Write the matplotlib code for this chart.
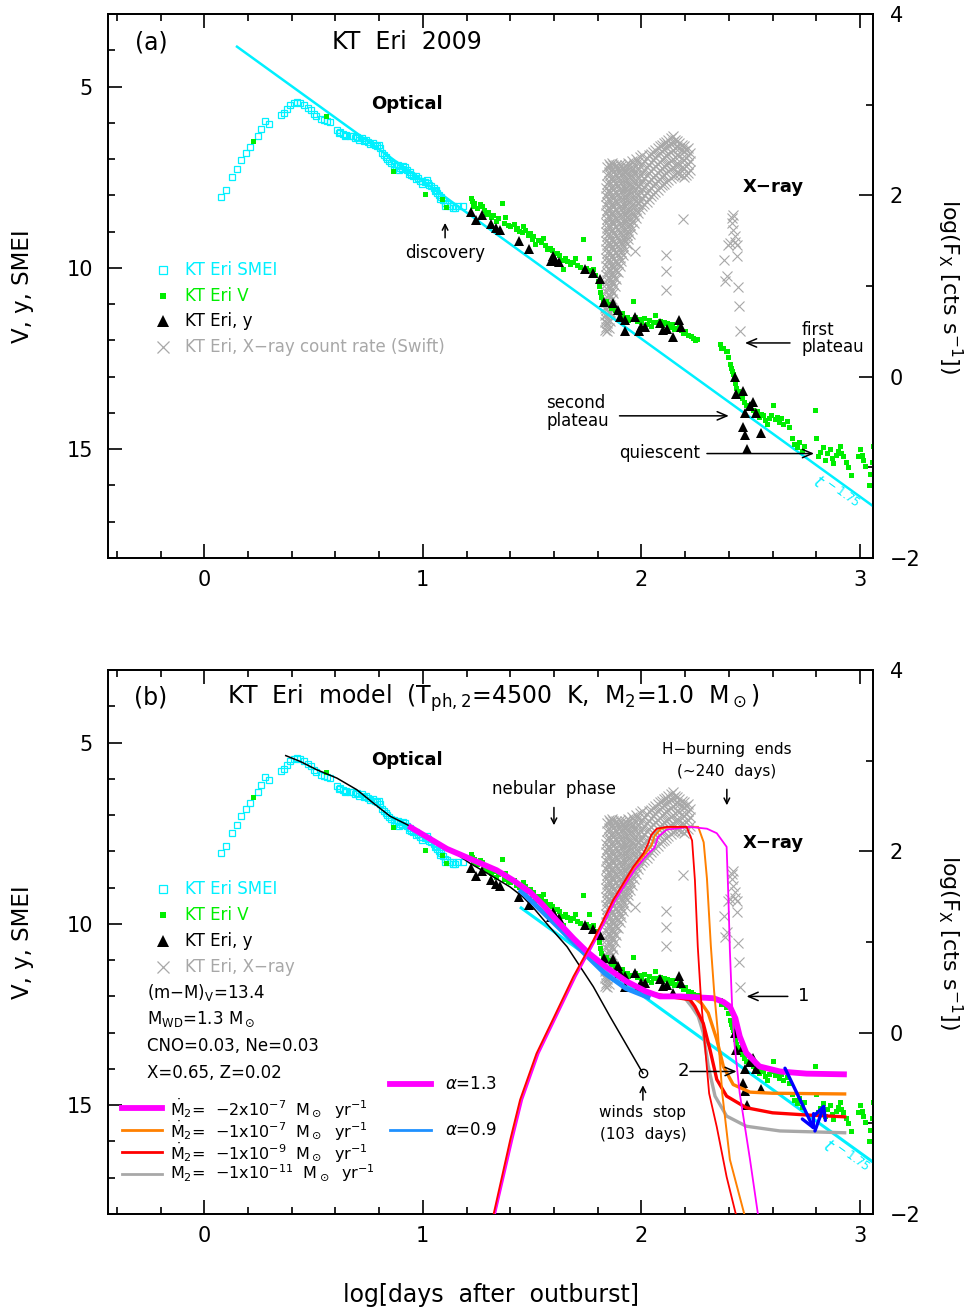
import numpy as np
import matplotlib.pyplot as plt

plt.rcParams['font.family'] = ['DejaVu Sans']
plt.rcParams['mathtext.fontset'] = 'dejavusans'
plt.rcParams['axes.linewidth'] = 1.3

CYAN = '#00f0ff'
GREEN = '#00ee00'
GREY = '#a8a8a8'
MAGENTA = '#ff00ff'
ORANGE = '#ff8000'
RED = '#ff0000'
MGREY = '#a8a8a8'
SKY = '#1e90ff'

# ---- observations: log(days after outburst), magnitude ----
smei = np.array([
    [0.076, 8.05], [0.100, 7.84], [0.125, 7.50], [0.148, 7.28], [0.169, 7.02],
    [0.189, 6.84], [0.209, 6.67], [0.244, 6.35], [0.262, 6.16], [0.277, 5.94],
    [0.296, 6.02], [0.352, 5.78], [0.367, 5.73], [0.378, 5.62], [0.393, 5.50],
    [0.409, 5.46], [0.424, 5.43], [0.439, 5.44], [0.457, 5.50], [0.473, 5.58],
    [0.488, 5.64], [0.500, 5.75], [0.512, 5.80], [0.534, 5.89], [0.548, 5.92],
    [0.561, 5.96], [0.576, 5.99], [0.607, 6.19], [0.615, 6.28], [0.620, 6.24],
    [0.637, 6.30], [0.645, 6.36], [0.650, 6.33], [0.668, 6.37], [0.680, 6.35],
    [0.690, 6.43], [0.698, 6.40], [0.710, 6.46], [0.720, 6.42], [0.729, 6.51],
    [0.740, 6.48], [0.750, 6.52], [0.759, 6.58], [0.770, 6.55], [0.780, 6.60],
    [0.790, 6.65], [0.800, 6.62], [0.805, 6.70], [0.812, 6.83], [0.823, 6.88],
    [0.830, 6.93], [0.835, 6.99], [0.845, 7.05], [0.856, 7.10], [0.866, 7.13],
    [0.870, 7.18], [0.876, 7.20], [0.886, 7.17], [0.890, 7.30], [0.896, 7.24],
    [0.906, 7.28], [0.910, 7.20], [0.917, 7.22], [0.927, 7.29], [0.937, 7.40],
    [0.940, 7.35], [0.947, 7.45], [0.957, 7.47], [0.967, 7.55], [0.970, 7.48],
    [0.978, 7.52], [0.988, 7.61], [0.995, 7.60], [0.998, 7.70], [1.008, 7.62],
    [1.018, 7.58], [1.026, 7.65], [1.030, 7.72], [1.037, 7.75], [1.049, 7.79],
    [1.057, 7.88], [1.060, 7.85], [1.064, 7.93], [1.075, 7.98], [1.080, 8.10],
    [1.085, 8.05], [1.094, 8.12], [1.100, 8.30], [1.102, 8.20], [1.112, 8.24],
    [1.125, 8.29], [1.136, 8.35], [1.140, 8.28], [1.148, 8.34], [1.160, 8.30],
    [1.186, 8.28],
])

v_band = np.array([
    [0.223, 6.51], [0.556, 5.82], [0.863, 7.33], [1.011, 7.97], [1.090, 8.11],
    [1.104, 8.32],
    [1.222, 8.07], [1.226, 8.15], [1.230, 8.29], [1.236, 8.22], [1.250, 8.35],
    [1.262, 8.25], [1.270, 8.30], [1.278, 8.40], [1.290, 8.52], [1.300, 8.45],
    [1.310, 8.60], [1.322, 8.55], [1.334, 8.70], [1.345, 8.62], [1.364, 8.22],
    [1.370, 8.75], [1.377, 8.61], [1.390, 8.82], [1.400, 8.85], [1.415, 8.80],
    [1.425, 8.92], [1.430, 8.90], [1.440, 8.98], [1.455, 9.02], [1.460, 8.84],
    [1.468, 8.95], [1.480, 9.08], [1.490, 9.05], [1.500, 9.19], [1.506, 9.12],
    [1.514, 9.34], [1.525, 9.22], [1.540, 9.30], [1.552, 9.17], [1.560, 9.38],
    [1.567, 9.49], [1.580, 9.45], [1.590, 9.52], [1.600, 9.58], [1.613, 9.59],
    [1.625, 9.65], [1.636, 9.78], [1.643, 10.03], [1.650, 9.72], [1.660, 9.80],
    [1.674, 9.88], [1.680, 9.84], [1.689, 9.85], [1.697, 9.74], [1.705, 9.92],
    [1.720, 9.98], [1.735, 9.19], [1.745, 10.00], [1.762, 9.74], [1.770, 10.06],
    [1.780, 10.03], [1.790, 10.20], [1.800, 10.37], [1.805, 10.50], [1.810, 10.67],
    [1.815, 10.80],
    [1.825, 10.95], [1.840, 10.92], [1.850, 11.00], [1.860, 11.10], [1.870, 11.06],
    [1.880, 11.15], [1.890, 11.21], [1.900, 11.30], [1.910, 11.25], [1.920, 11.36],
    [1.933, 11.36], [1.940, 11.45], [1.950, 11.40], [1.963, 10.92], [1.970, 11.35],
    [1.980, 11.46], [1.990, 11.42], [2.000, 11.50], [2.010, 11.38], [2.024, 11.55],
    [2.035, 11.45], [2.045, 11.60], [2.055, 11.48], [2.062, 11.31], [2.070, 11.50],
    [2.085, 11.46], [2.095, 11.58], [2.105, 11.50], [2.116, 11.53], [2.125, 11.62],
    [2.139, 11.55], [2.150, 11.68], [2.160, 11.65], [2.170, 11.55], [2.180, 11.72],
    [2.190, 11.80], [2.200, 11.75], [2.215, 11.85], [2.225, 11.88], [2.236, 11.94],
    [2.245, 11.98], [2.253, 11.96],
    [2.360, 12.10], [2.365, 12.20], [2.375, 12.22], [2.385, 12.30], [2.390, 12.29],
    [2.398, 12.45], [2.405, 12.64], [2.410, 12.75], [2.415, 12.85], [2.420, 12.93],
    [2.425, 13.05], [2.428, 13.18], [2.435, 13.30], [2.440, 13.40], [2.450, 13.52],
    [2.460, 13.60], [2.470, 13.70], [2.480, 13.78], [2.490, 13.85], [2.500, 13.75],
    [2.512, 13.91], [2.520, 14.00], [2.530, 13.95], [2.540, 14.10], [2.548, 14.02],
    [2.558, 14.06], [2.565, 14.20], [2.573, 14.31], [2.585, 14.15], [2.595, 14.05],
    [2.604, 13.77], [2.610, 14.18], [2.620, 14.11], [2.630, 14.25], [2.640, 14.15],
    [2.650, 14.31], [2.665, 14.21], [2.675, 14.40], [2.690, 14.70], [2.700, 14.85],
    [2.710, 14.95], [2.720, 14.80], [2.733, 15.04], [2.745, 14.90], [2.794, 13.91],
    [2.800, 14.70], [2.810, 15.20], [2.817, 15.09], [2.830, 14.95], [2.840, 15.29],
    [2.850, 15.10], [2.863, 15.00], [2.870, 15.25], [2.878, 15.39], [2.890, 15.15],
    [2.900, 15.05], [2.909, 14.90], [2.915, 15.10], [2.924, 15.19], [2.935, 15.35],
    [2.947, 15.49], [2.960, 15.70], [2.990, 15.20], [3.000, 15.00], [3.008, 15.15],
    [3.015, 15.29], [3.025, 15.45], [3.040, 15.98], [3.046, 15.68], [3.055, 15.35],
    [3.060, 14.90],
])

y_band = np.array([
    [1.220, 8.46], [1.245, 8.67], [1.270, 8.55], [1.314, 8.78], [1.334, 8.89],
    [1.354, 8.95], [1.442, 9.27], [1.488, 9.47], [1.585, 9.80], [1.594, 9.68],
    [1.605, 9.79], [1.625, 9.84], [1.742, 10.02], [1.780, 10.13], [1.810, 10.30],
    [1.829, 10.94], [1.870, 10.98], [1.894, 11.17], [1.900, 11.35], [1.925, 11.44],
    [1.925, 11.73], [1.970, 11.35], [1.990, 11.73], [2.000, 11.63], [2.015, 11.63],
    [2.085, 11.53], [2.100, 11.71], [2.116, 11.68], [2.146, 11.91], [2.170, 11.44],
    [2.180, 11.63], [2.428, 13.01], [2.433, 13.47], [2.463, 13.40], [2.497, 13.82],
    [2.512, 13.70], [2.474, 14.01], [2.524, 14.01], [2.463, 14.39], [2.474, 14.60],
    [2.546, 14.55], [2.485, 15.00],
])

# Swift count rate, log(cts/s), grouped by epoch
xray_cols = [
    (1.832, [0.52, 0.60, 0.68, 0.76, 0.84]),
    (1.838, [0.55, 0.64, 0.73, 0.82, 0.93, 1.02, 1.12, 1.22, 1.31, 1.41, 1.50,
             1.60, 1.70, 1.80, 1.89, 1.99, 2.08]),
    (1.844, [0.50, 0.59, 0.69, 0.78, 0.88, 0.97, 1.07, 1.16, 1.26, 1.36, 1.45,
             1.55, 1.64, 1.74, 1.84, 1.93, 2.03, 2.12, 2.22, 2.31]),
    (1.851, [0.54, 0.63, 0.72, 0.82, 0.91, 1.01, 1.10, 1.20, 1.30, 1.39, 1.49,
             1.58, 1.68, 1.78, 1.87, 1.97, 2.06, 2.16, 2.26, 2.35]),
    (1.858, [0.61, 0.70, 0.79, 0.88, 0.98, 1.07, 1.17, 1.27, 1.36, 1.46, 1.55,
             1.65, 1.75, 1.84, 1.94, 2.03, 2.13, 2.23, 2.32]),
    (1.865, [0.74, 0.86, 0.95, 1.05, 1.14, 1.24, 1.33, 1.43, 1.52, 1.62, 1.72,
             1.81, 1.91, 2.00, 2.10, 2.20, 2.29, 2.36]),
    (1.872, [0.92, 1.02, 1.11, 1.21, 1.30, 1.40, 1.49, 1.59, 1.69, 1.78, 1.88,
             1.97, 2.07, 2.17, 2.26, 2.33]),
    (1.879, [1.00, 1.09, 1.19, 1.28, 1.38, 1.47, 1.57, 1.66, 1.76, 1.85, 1.95,
             2.04, 2.14, 2.24, 2.31]),
    (1.886, [1.08, 1.17, 1.27, 1.36, 1.46, 1.55, 1.65, 1.74, 1.84, 1.93, 2.03,
             2.12, 2.22, 2.34]),
    (1.893, [1.16, 1.25, 1.35, 1.44, 1.54, 1.63, 1.73, 1.82, 1.92, 2.01, 2.11,
             2.20, 2.30]),
    (1.900, [1.22, 1.31, 1.41, 1.50, 1.60, 1.69, 1.79, 1.88, 1.98, 2.07, 2.17,
             2.26, 2.35]),
    (1.908, [1.28, 1.38, 1.47, 1.57, 1.66, 1.76, 1.85, 1.95, 2.04, 2.14, 2.23, 2.32]),
    (1.916, [1.34, 1.44, 1.53, 1.63, 1.72, 1.82, 1.91, 2.01, 2.10, 2.20, 2.29]),
    (1.924, [1.40, 1.50, 1.59, 1.69, 1.78, 1.88, 1.97, 2.07, 2.16, 2.26, 2.34]),
    (1.932, [1.46, 1.56, 1.65, 1.75, 1.84, 1.94, 2.03, 2.13, 2.22, 2.31]),
    (1.941, [1.52, 1.61, 1.71, 1.80, 1.90, 1.99, 2.09, 2.18, 2.28, 2.36]),
    (1.950, [1.57, 1.67, 1.76, 1.86, 1.95, 2.05, 2.14, 2.24, 2.33]),
    (1.959, [1.63, 1.72, 1.82, 1.91, 2.01, 2.10, 2.20, 2.29, 2.38]),
    (1.968, [1.69, 1.78, 1.88, 1.97, 2.07, 2.16, 2.26, 2.35]),
    (1.977, [1.75, 1.84, 1.94, 2.03, 2.13, 2.22, 2.32, 2.40]),
    (1.986, [1.80, 1.90, 1.99, 2.09, 2.18, 2.28, 2.37]),
    (1.995, [1.85, 1.94, 2.04, 2.13, 2.23, 2.32, 2.42]),
    (2.004, [1.88, 1.97, 2.07, 2.16, 2.26, 2.35, 2.44]),
    (2.014, [1.90, 2.00, 2.09, 2.19, 2.28, 2.38]),
    (2.024, [1.93, 2.03, 2.12, 2.22, 2.31, 2.41]),
    (2.034, [1.96, 2.06, 2.15, 2.25, 2.34, 2.44]),
    (2.044, [1.99, 2.08, 2.18, 2.27, 2.37, 2.46]),
    (2.054, [2.01, 2.11, 2.20, 2.30, 2.39, 2.48]),
    (2.064, [2.04, 2.13, 2.23, 2.32, 2.42, 2.50]),
    (2.074, [2.06, 2.16, 2.25, 2.35, 2.44, 2.52]),
    (2.084, [2.09, 2.18, 2.28, 2.37, 2.47, 2.54]),
    (2.094, [2.11, 2.21, 2.30, 2.40, 2.49, 2.56]),
    (2.104, [2.13, 2.23, 2.32, 2.42, 2.51, 2.58]),
    (2.114, [2.15, 2.25, 2.34, 2.44, 2.53, 2.59]),
    (2.124, [2.17, 2.27, 2.36, 2.46, 2.55, 2.61]),
    (2.134, [2.19, 2.29, 2.38, 2.48, 2.57, 2.63]),
    (2.144, [2.21, 2.31, 2.40, 2.50, 2.59, 2.65]),
    (2.154, [2.23, 2.33, 2.42, 2.52, 2.61]),
    (2.164, [2.25, 2.34, 2.44, 2.53, 2.60]),
    (2.174, [2.24, 2.33, 2.43, 2.52, 2.58]),
    (2.184, [2.22, 2.31, 2.41, 2.50, 2.56]),
    (2.194, [2.20, 2.30, 2.39, 2.49, 2.54]),
    (2.204, [2.22, 2.32, 2.41, 2.50]),
    (2.214, [2.25, 2.35, 2.44, 2.52]),
    (2.224, [2.28, 2.38, 2.47]),
    (1.970, [1.39]),
    (2.112, [1.34, 1.17, 0.96]),
    (2.190, [1.74]),
    (2.378, [1.29]), (2.383, [1.05]), (2.390, [1.11]), (2.397, [1.45]),
    (2.405, [1.47]), (2.413, [1.69, 1.75]), (2.420, [1.62, 1.78]),
    (2.428, [1.49, 1.55]), (2.436, [1.33, 1.45]), (2.440, [0.99]),
    (2.445, [0.78]), (2.451, [0.50]),
]
xray_t = np.array([t for t, fs in xray_cols for _ in fs])
xray_f = np.array([f for _, fs in xray_cols for f in fs])

# t^-1.75 decline
decay_a = np.array([[0.15, 3.90], [3.06, 16.57]])
decay_b = np.array([[1.45, 9.56], [3.06, 16.57]])

# ---- models (panel b) ----
wind_model = np.array([
    [0.373, 5.36], [0.439, 5.52], [0.515, 5.75], [0.607, 5.98], [0.698, 6.30],
    [0.774, 6.67], [0.850, 7.03], [0.927, 7.26], [1.018, 7.58], [1.125, 7.95],
    [1.216, 8.33], [1.308, 8.65], [1.399, 8.98], [1.459, 9.26], [1.505, 9.55],
    [1.568, 10.00], [1.660, 10.63], [1.720, 11.18], [1.780, 11.73], [1.856, 12.55],
    [2.007, 14.12],
])
opt_a13 = np.array([
    [0.934, 7.30], [1.110, 7.93], [1.230, 8.24], [1.338, 8.52], [1.414, 8.80],
    [1.490, 9.12], [1.550, 9.48], [1.610, 9.89], [1.689, 10.40], [1.750, 10.76],
    [1.840, 11.20], [1.930, 11.58], [2.020, 11.86], [2.085, 12.00], [2.177, 12.00],
    [2.330, 12.05], [2.375, 12.15], [2.405, 12.28], [2.430, 12.60], [2.450, 13.10],
    [2.480, 13.56], [2.540, 13.93], [2.634, 14.07], [2.756, 14.13], [2.940, 14.15],
])
opt_a09 = np.array([
    [1.450, 9.10], [1.550, 9.68], [1.630, 10.15], [1.720, 10.70], [1.830, 11.35],
    [1.930, 11.78], [2.030, 12.02],
])
opt_m7 = np.array([
    [2.100, 11.98], [2.245, 12.05], [2.275, 12.19], [2.306, 12.46], [2.345, 13.19],
    [2.375, 13.93], [2.420, 14.43], [2.497, 14.64], [2.600, 14.67], [2.930, 14.69],
])
opt_m9 = np.array([
    [2.020, 11.88], [2.100, 11.98], [2.222, 12.09], [2.245, 12.28], [2.283, 12.74],
    [2.314, 13.47], [2.345, 14.29], [2.390, 14.75], [2.480, 15.07], [2.600, 15.21],
    [2.756, 15.27], [2.930, 15.32],
])
opt_m11 = np.array([
    [2.200, 12.05], [2.230, 12.28], [2.260, 12.55], [2.283, 13.00], [2.306, 13.93],
    [2.337, 14.75], [2.390, 15.30], [2.480, 15.58], [2.634, 15.71], [2.930, 15.76],
])

xr_m2e7 = np.array([
    [1.330, -2.01], [1.410, -1.18], [1.455, -0.74], [1.530, -0.23], [1.590, 0.07],
    [1.700, 0.62], [1.790, 1.02], [1.880, 1.46], [1.970, 1.80], [2.030, 1.97],
    [2.060, 2.04], [2.077, 2.16], [2.116, 2.24], [2.220, 2.27], [2.300, 2.25],
    [2.345, 2.20], [2.390, 2.05], [2.398, 1.50], [2.405, 0.90], [2.415, 0.30],
    [2.425, -0.10], [2.450, -0.67], [2.497, -1.40], [2.535, -2.03],
])
xr_m1e7 = np.array([
    [1.327, -2.01], [1.405, -1.18], [1.450, -0.74], [1.525, -0.23], [1.585, 0.07],
    [1.695, 0.62], [1.785, 1.02], [1.875, 1.46], [1.968, 1.83], [2.020, 1.98],
    [2.045, 2.06], [2.060, 2.17], [2.090, 2.25], [2.130, 2.27], [2.260, 2.27],
    [2.285, 2.10], [2.300, 1.70], [2.318, 0.95], [2.333, 0.45], [2.350, 0.00],
    [2.370, -0.67], [2.405, -1.40], [2.474, -2.03],
])
xr_m1e9 = np.array([
    [1.323, -2.01], [1.400, -1.18], [1.445, -0.74], [1.520, -0.23], [1.580, 0.07],
    [1.689, 0.62], [1.780, 1.02], [1.870, 1.46], [1.963, 1.83], [2.010, 1.98],
    [2.030, 2.08], [2.045, 2.18], [2.070, 2.25], [2.116, 2.27], [2.207, 2.27],
    [2.232, 2.12], [2.245, 1.68], [2.258, 0.95], [2.272, 0.40], [2.290, -0.12],
    [2.310, -0.67], [2.345, -1.04], [2.390, -1.59], [2.435, -2.03],
])

limit_arrows = [((2.657, 13.98), (2.794, 15.71)), ((2.794, 15.71), (2.840, 14.94))]


def arrow(ax, start, end, lw=1.1, color='k', head='0.7', width='0.3'):
    ax.annotate('', xy=end, xytext=start,
                arrowprops=dict(arrowstyle=f'->,head_length={head},head_width={width}',
                                color=color, lw=lw, shrinkA=0, shrinkB=0))


def make_panel(rect):
    ax = fig.add_axes(rect)
    axr = ax.twinx()
    ax.set_zorder(axr.get_zorder() + 1)
    ax.patch.set_visible(False)

    ax.set_xlim(-0.44, 3.06)
    ax.set_ylim(18, 3)
    axr.set_ylim(-2, 4)
    ax.set_xticks([0, 1, 2, 3])
    ax.set_xticks(np.arange(-0.4, 3.05, 0.2), minor=True)
    ax.set_yticks([5, 10, 15])
    ax.set_yticks(np.arange(3, 19), minor=True)
    axr.set_yticks([-2, 0, 2, 4])
    axr.set_yticks([-1, 1, 3], minor=True)
    for a in (ax, axr):
        a.tick_params(which='both', direction='in', width=1.2, labelsize=15)
        a.tick_params(which='major', length=10)
        a.tick_params(which='minor', length=5)
    ax.tick_params(axis='x', which='both', top=True, pad=9)
    ax.tick_params(axis='y', pad=11)
    axr.tick_params(axis='y', pad=12)

    ax.set_ylabel('V, y, SMEI', fontsize=16.5, va='center')
    ax.yaxis.set_label_coords(-0.112, 0.5)
    axr.set_ylabel(r'log(F$_{\rm X}$ [cts s$^{-1}$])', fontsize=16,
                   rotation=270, va='center', ha='center')
    axr.yaxis.set_label_coords(1.10, 0.5)

    # observations
    axr.plot(xray_t, xray_f, 'x', color=GREY, ms=7, mew=0.8)
    ax.plot(smei[:, 0], smei[:, 1], 's', mfc='none', mec=CYAN, ms=4, mew=0.9)
    ax.plot(v_band[:, 0], v_band[:, 1], 's', color=GREEN, ms=3.6, mew=0)
    ax.plot(y_band[:, 0], y_band[:, 1], '^', color='k', ms=7, mew=0)
    return ax, axr


def key(ax, y, text, tcolor, **mk):
    ax.plot([0.072], [y], transform=ax.transAxes, clip_on=False, ls='none', **mk)
    ax.text(0.100, y, text, transform=ax.transAxes, color=tcolor, fontsize=12,
            va='center')


fig = plt.figure(figsize=(9.69, 13.12), dpi=100)

# ---------------- (a) ----------------
ax, axr = make_panel([0.1115, 0.5747, 0.7895, 0.4146])
ax.plot(decay_a[:, 0], decay_a[:, 1], color=CYAN, lw=1.8, zorder=1.5)

ax.text(0.056, 0.947, '(a)', transform=ax.transAxes, fontsize=17, ha='center', va='center')
ax.text(0.39, 0.948, 'KT  Eri  2009', transform=ax.transAxes, fontsize=17, ha='center', va='center')
ax.text(0.928, 5.47, 'Optical', fontsize=13, fontweight='bold', ha='center', va='center')
ax.text(2.602, 7.77, 'X\u2212ray', fontsize=13, fontweight='bold', ha='center', va='center')
ax.text(1.102, 9.59, 'discovery', fontsize=12, ha='center', va='center')
arrow(ax, (1.102, 9.17), (1.102, 8.76), head='0.4', width='0.2')
ax.text(2.734, 11.72, 'first', fontsize=12, va='center')
ax.text(2.734, 12.17, 'plateau', fontsize=12, va='center')
arrow(ax, (2.68, 12.07), (2.474, 12.07))
ax.text(1.564, 13.72, 'second', fontsize=12, va='center')
ax.text(1.564, 14.22, 'plateau', fontsize=12, va='center')
arrow(ax, (1.90, 14.08), (2.40, 14.08))
ax.text(2.085, 15.10, 'quiescent', fontsize=12, ha='center', va='center')
arrow(ax, (2.30, 15.12), (2.79, 15.12))
ax.text(2.885, 16.25, r'$t^{\,-1.75}$', fontsize=12, color=CYAN, rotation=-36,
        ha='center', va='center')

key(ax, 0.529, 'KT Eri SMEI', CYAN, marker='s', mfc='none', mec=CYAN, ms=6, mew=0.9)
key(ax, 0.482, 'KT Eri V', GREEN, marker='s', mfc=GREEN, mec=GREEN, ms=5, mew=0)
key(ax, 0.436, 'KT Eri, y', 'k', marker='^', mfc='k', mec='k', ms=8, mew=0)
key(ax, 0.388, 'KT Eri, X\u2212ray count rate (Swift)', GREY, marker='x', mec=GREY, ms=9, mew=0.9)

# ---------------- (b) ----------------
ax, axr = make_panel([0.1115, 0.0747, 0.7895, 0.4146])
axm = ax.twinx()
axm.set_ylim(-2, 4)
axm.set_zorder(ax.get_zorder() + 1)
axm.axis('off')

ax.plot(decay_b[:, 0], decay_b[:, 1], color=CYAN, lw=2.2, zorder=1.5)
ax.plot(wind_model[:, 0], wind_model[:, 1], color='k', lw=1.1)
ax.plot(wind_model[-1, 0], wind_model[-1, 1], 'o', mfc='none', mec='k', ms=6, mew=1)
ax.plot(opt_m11[:, 0], opt_m11[:, 1], color=MGREY, lw=2.4)
ax.plot(opt_m9[:, 0], opt_m9[:, 1], color=RED, lw=2.4)
ax.plot(opt_m7[:, 0], opt_m7[:, 1], color=ORANGE, lw=2.4)
ax.plot(opt_a09[:, 0], opt_a09[:, 1], color=SKY, lw=3.6)
ax.plot(opt_a13[:, 0], opt_a13[:, 1], color=MAGENTA, lw=4.2, solid_capstyle='butt')

axm.plot(xr_m1e7[:, 0], xr_m1e7[:, 1], color=ORANGE, lw=1.4)
axm.plot(xr_m2e7[:, 0], xr_m2e7[:, 1], color=MAGENTA, lw=1.3)
axm.plot(xr_m1e9[:, 0], xr_m1e9[:, 1], color=RED, lw=1.3)

for start, end in limit_arrows:
    arrow(ax, start, end, lw=2.4, color='#0000ff', head='0.9', width='0.45')

ax.text(0.056, 0.949, '(b)', transform=ax.transAxes, fontsize=17, ha='center', va='center')
ax.text(0.503, 0.949, r'KT  Eri  model  (T$_{\rm ph,2}$=4500  K,  M$_2$=1.0  M$_\odot$)',
        transform=ax.transAxes, fontsize=17, ha='center', va='center')
ax.text(0.928, 5.47, 'Optical', fontsize=13, fontweight='bold', ha='center', va='center')
ax.text(2.602, 7.77, 'X\u2212ray', fontsize=13, fontweight='bold', ha='center', va='center')
ax.text(1.60, 6.29, 'nebular  phase', fontsize=12, ha='center', va='center')
arrow(ax, (1.60, 6.79), (1.60, 7.28), head='0.4', width='0.2')
ax.text(2.391, 5.19, 'H\u2212burning  ends', fontsize=11, ha='center', va='center')
ax.text(2.391, 5.80, '(~240  days)', fontsize=11, ha='center', va='center')
arrow(ax, (2.391, 6.29), (2.391, 6.73), head='0.4', width='0.2')
ax.text(2.716, 12.0, '1', fontsize=13, va='center')
arrow(ax, (2.67, 12.0), (2.481, 12.0))
ax.text(2.19, 14.07, '2', fontsize=13, ha='center', va='center')
arrow(ax, (2.222, 14.07), (2.436, 14.07))
ax.text(2.007, 15.19, 'winds  stop', fontsize=11, ha='center', va='center')
ax.text(2.007, 15.80, '(103  days)', fontsize=11, ha='center', va='center')
arrow(ax, (2.007, 14.86), (2.007, 14.45), head='0.4', width='0.2')
ax.text(2.93, 16.45, r'$t^{\,-1.75}$', fontsize=12, color=CYAN, rotation=-36,
        ha='center', va='center')

key(ax, 0.597, 'KT Eri SMEI', CYAN, marker='s', mfc='none', mec=CYAN, ms=6, mew=0.9)
key(ax, 0.550, 'KT Eri V', GREEN, marker='s', mfc=GREEN, mec=GREEN, ms=5, mew=0)
key(ax, 0.502, 'KT Eri, y', 'k', marker='^', mfc='k', mec='k', ms=8, mew=0)
key(ax, 0.454, 'KT Eri, X\u2212ray', GREY, marker='x', mec=GREY, ms=9, mew=0.9)

params = [r'(m$-$M)$_{\rm V}$=13.4', r'M$_{\rm WD}$=1.3 M$_\odot$',
          'CNO=0.03, Ne=0.03', 'X=0.65, Z=0.02']
for i, s in enumerate(params):
    ax.text(0.051, 0.408 - 0.0497 * i, s, transform=ax.transAxes, fontsize=12, va='center')

mdot_keys = [
    (MAGENTA, 4.2, r'$\dot{\mathrm{M}}_2$=  $-$2x10$^{-7}$  M$_\odot$  yr$^{-1}$'),
    (ORANGE, 2.0, r'$\dot{\mathrm{M}}_2$=  $-$1x10$^{-7}$  M$_\odot$  yr$^{-1}$'),
    (RED, 2.0, r'$\dot{\mathrm{M}}_2$=  $-$1x10$^{-9}$  M$_\odot$  yr$^{-1}$'),
    (MGREY, 2.0, r'M$_2$=  $-$1x10$^{-11}$  M$_\odot$  yr$^{-1}$'),
]
for i, (c, w, s) in enumerate(mdot_keys):
    y = 0.195 - 0.0403 * i
    ax.plot([0.018, 0.071], [y, y], transform=ax.transAxes, color=c, lw=w, clip_on=False)
    ax.text(0.081, y, s, transform=ax.transAxes, fontsize=11.5, va='center')

for y, c, w, s in [(0.239, MAGENTA, 4.2, r'$\alpha$=1.3'), (0.154, SKY, 2.0, r'$\alpha$=0.9')]:
    ax.plot([0.369, 0.422], [y, y], transform=ax.transAxes, color=c, lw=w, clip_on=False)
    ax.text(0.44, y, s, transform=ax.transAxes, fontsize=12, va='center')

ax.set_xlabel('log[days  after  outburst]', fontsize=17, va='center')
ax.xaxis.set_label_coords(0.5, -0.149)

fig.savefig('out.png', dpi=100)
